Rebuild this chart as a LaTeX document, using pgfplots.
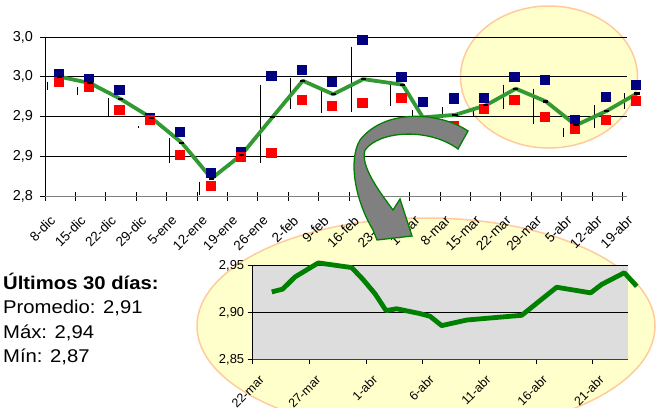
\documentclass[border=0pt]{standalone}
\usepackage{pgfplots}
\pgfplotsset{compat=1.18}
\usepackage{fontspec}
\setmainfont{Liberation Sans}
\newfontfamily\widefont{Liberation Sans}[FakeStretch=1.1]
\definecolor{navyb}{RGB}{0,0,128}
\definecolor{redb}{RGB}{255,0,0}
\definecolor{lgreen}{RGB}{51,153,51}
\definecolor{dgreen}{RGB}{0,128,0}
\definecolor{ellfill}{RGB}{255,255,204}
\definecolor{elldraw}{RGB}{255,204,153}
\definecolor{insetbg}{RGB}{221,221,221}
\definecolor{arrowgray}{RGB}{128,128,128}
\begin{document}
\begin{tikzpicture}[x=1bp,y=-1bp]
\useasboundingbox (0,0) rectangle (662,407);
\clip (0,0) rectangle (662,407);
\coordinate (mainSW) at (45,196);
\coordinate (insetSW) at (252.7,359.3);
% ellipses
\draw[elldraw, line width=1.5bp, fill=ellfill] (549,77) ellipse [x radius=88.5bp, y radius=71bp];
\draw[elldraw, line width=1.5bp, fill=ellfill] (426,326) ellipse [x radius=229bp, y radius=108bp];
% main chart
\begin{axis}[
  at={(mainSW)}, anchor=south west, scale only axis,
  width=582bp, height=159bp,
  xmin=0, xmax=19.15, ymin=2.8, ymax=3.0,
  clip=false,
  axis x line*=bottom, axis y line*=left,
  x axis line style={-, gray, line width=1bp},
  y axis line style={-, black, line width=0.8bp},
  xtick={0,...,19},
  xticklabels={8-dic,15-dic,22-dic,29-dic,5-ene,12-ene,19-ene,26-ene,2-feb,9-feb,16-feb,23-feb,1-mar,8-mar,15-mar,22-mar,29-mar,5-abr,12-abr,19-abr},
  ytick={2.8,2.85,2.9,2.95,3.0},
  yticklabels={{2,8},{2,9},{2,9},{3,0},{3,0}},
  ymajorgrids, grid style={black, line width=0.8bp},
  tick align=center, major tick length=9bp,
  tick style={black, line width=0.8bp},
  xticklabel style={rotate=45, anchor=east, inner sep=0pt, font=\fontsize{13.5}{13.5}\selectfont, xshift=-7bp, yshift=-18bp},
  yticklabel style={font=\fontsize{14.5}{14.5}\selectfont, xshift=-4bp},
  /pgf/number format/assume math mode=true,
]
% high-low lines
\addplot[black, line width=0.7bp, unbounded coords=jump] coordinates {
(0.09,2.944) (0.09,2.933) (0.09,nan)
(1.08,2.937) (1.08,2.927) (1.08,nan)
(2.08,2.923) (2.08,2.899) (2.08,nan)
(3.06,2.888) (3.06,2.886) (3.06,nan)
(4.08,2.873) (4.08,2.842) (4.08,nan)
(5.07,2.818) (5.07,2.801) (5.07,nan)
(6.06,2.843) (6.06,2.837) (6.06,nan)
(7.07,2.940) (7.07,2.842) (7.07,nan)
(8.08,2.949) (8.08,2.910) (8.08,nan)
(9.08,2.933) (9.08,2.904) (9.08,nan)
(10.09,2.988) (10.09,2.906) (10.09,nan)
(11.37,2.940) (11.37,2.913) (11.37,nan)
(12.08,2.908) (12.08,2.900) (12.08,nan)
(13.08,2.912) (13.08,2.898) (13.08,nan)
(14.09,2.912) (14.09,2.899) (14.09,nan)
(15.08,2.940) (15.08,2.910) (15.08,nan)
(16.06,2.935) (16.06,2.891) (16.06,nan)
(17.07,2.885) (17.07,2.874) (17.07,nan)
(18.07,2.914) (18.07,2.885) (18.07,nan)
(19.06,2.929) (19.06,2.910)
};
% blue squares
\addplot[only marks, mark=square*, mark size=4.6bp, mark options={draw=navyb, fill=navyb}] coordinates {
(0.44,2.954) (1.44,2.948) (2.44,2.934) (3.44,2.898) (4.44,2.881) (5.44,2.829) (6.44,2.856) (7.44,2.951) (8.44,2.959) (9.44,2.944) (10.44,2.997) (11.72,2.950) (12.44,2.919) (13.44,2.923) (14.44,2.924) (15.44,2.950) (16.44,2.946) (17.44,2.896) (18.44,2.925) (19.44,2.940)
};
% red squares
\addplot[only marks, mark=square*, mark size=4.6bp, mark options={draw=redb, fill=redb}] coordinates {
(0.44,2.944) (1.44,2.937) (2.44,2.909) (3.44,2.896) (4.44,2.852) (5.44,2.813) (6.44,2.849) (7.44,2.854) (8.44,2.921) (9.44,2.914) (10.44,2.917) (11.72,2.924) (12.44,2.890) (13.44,2.888) (14.44,2.910) (15.44,2.921) (16.44,2.900) (17.44,2.885) (18.44,2.896) (19.44,2.920)
};
% green line
\addplot[lgreen, line width=3.8bp, line join=round, mark=-, mark size=2.6bp, mark options={black, line width=2.2bp, solid}] coordinates {
(0.49,2.950) (1.48,2.942) (2.49,2.922) (3.51,2.898) (4.50,2.867) (5.48,2.822) (6.47,2.852) (7.48,2.899) (8.48,2.945) (9.48,2.928) (10.47,2.947) (11.77,2.940) (12.43,2.899) (13.49,2.902) (14.50,2.914) (15.49,2.935) (16.48,2.919) (17.47,2.889) (18.48,2.907) (19.48,2.929)
};
\end{axis}
% inset chart
\begin{axis}[
  at={(insetSW)}, anchor=south west, scale only axis,
  width=375bp, height=93.6bp,
  xmin=0, xmax=33.1, ymin=2.85, ymax=2.95,
  clip=false,
  axis background/.style={fill=insetbg},
  axis x line*=bottom, axis y line*=left,
  x axis line style={-, black!75, line width=1bp},
  y axis line style={-, black, line width=0.8bp},
  xtick={0,5,...,30},
  xticklabels={22-mar,27-mar,1-abr,6-abr,11-abr,16-abr,21-abr},
  ytick={2.85,2.9,2.95},
  yticklabels={{2,85},{2,90},{2,95}},
  ymajorgrids, grid style={black, line width=0.8bp},
  tick align=outside, major tick length=5bp,
  tick style={black, line width=0.8bp},
  xticklabel style={rotate=45, anchor=east, inner sep=0pt, font=\fontsize{12.5}{12.5}\selectfont, xshift=-3bp, yshift=-16bp},
  yticklabel style={font=\fontsize{13}{13}\selectfont},
  /pgf/number format/assume math mode=true,
]
\addplot[dgreen, line width=4.8bp, line join=round] coordinates {
(1.68,2.922) (2.65,2.925) (3.73,2.938) (5.79,2.953) (8.74,2.948) (9.76,2.935) (10.8,2.920) (11.77,2.902) (12.7,2.904) (14.7,2.899) (15.65,2.896) (16.68,2.886) (18.9,2.892) (23.74,2.897) (26.83,2.927) (29.83,2.921) (30.8,2.930) (32.8,2.9425) (33.9,2.928)
};
\end{axis}
% arrow
\draw[draw=dgreen, line width=1.3bp, fill=arrowgray, line join=miter]
 (468,131) .. controls (440,112) and (385,108) .. (360,140)
 .. controls (348,160) and (355,200) .. (373,230) -- (377,240) -- (412,236) -- (400,199) -- (393,210)
 .. controls (378,190) and (360,165) .. (365,150)
 .. controls (380,130) and (430,128) .. (458,149) -- cycle;
% text
\node[anchor=base west, inner sep=0pt] at (3,289) {\widefont\fontsize{18.5}{18.5}\selectfont\bfseries Últimos 30 días:};
\node[anchor=base west, inner sep=0pt] at (3,313) {\widefont\fontsize{18.5}{18.5}\selectfont Promedio: 2,91};
\node[anchor=base west, inner sep=0pt] at (3,338) {\widefont\fontsize{18.5}{18.5}\selectfont Máx: 2,94};
\node[anchor=base west, inner sep=0pt] at (3,362) {\widefont\fontsize{18.5}{18.5}\selectfont Mín: 2,87};
\end{tikzpicture}
\end{document}
